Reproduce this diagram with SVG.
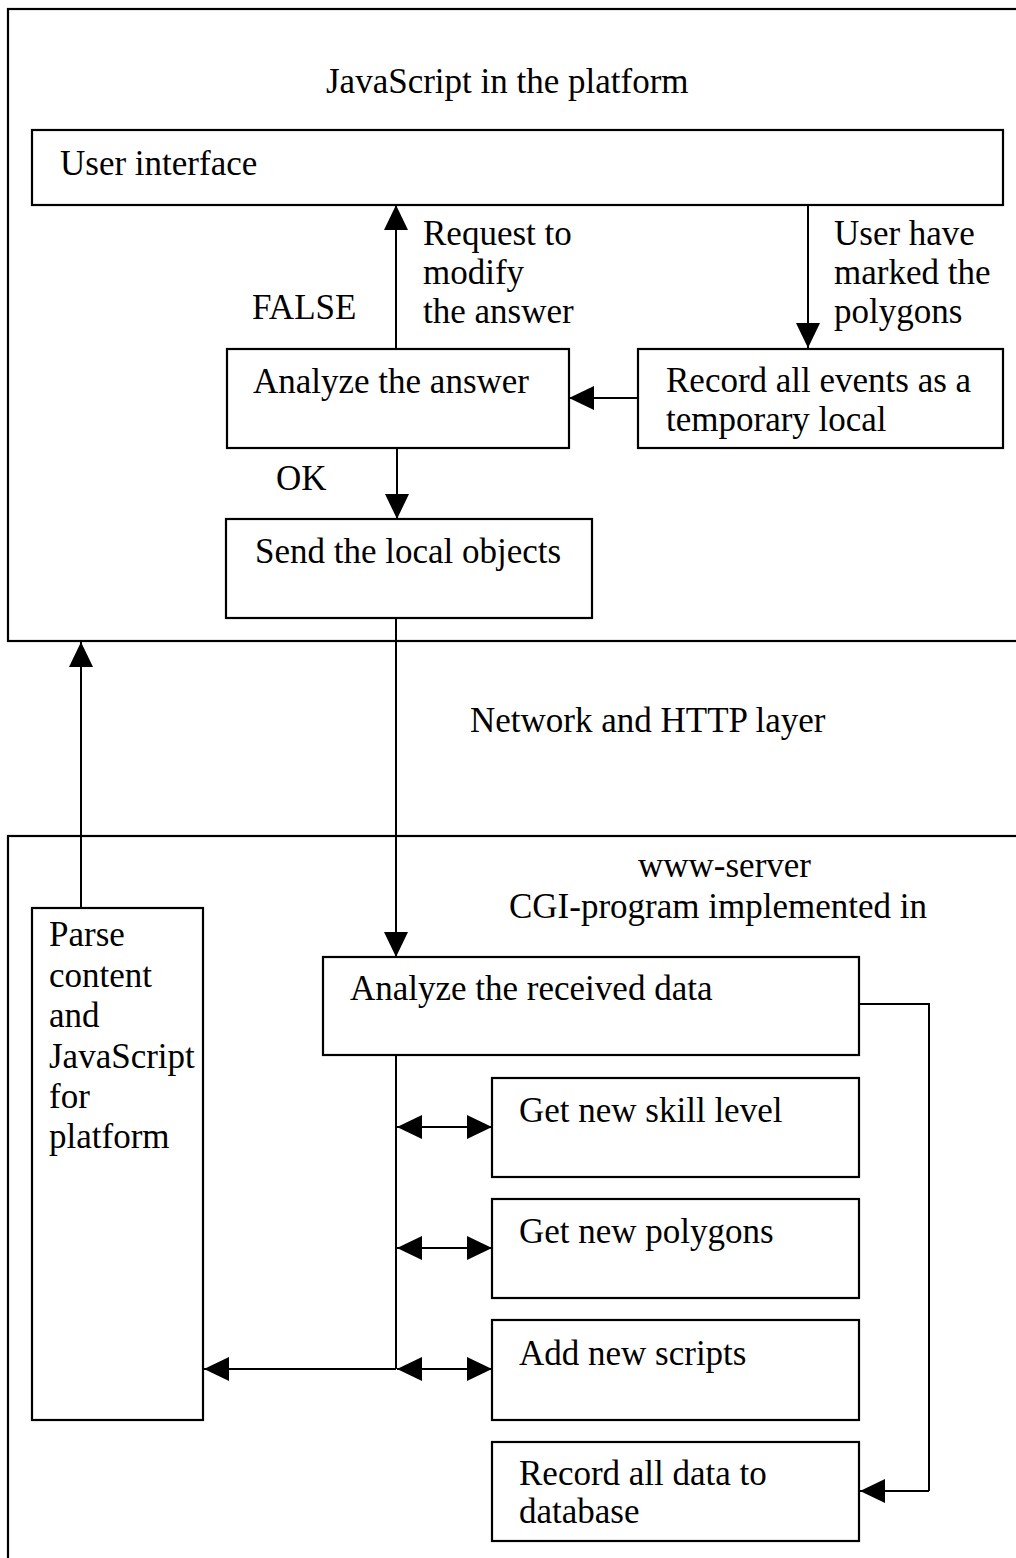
<svg xmlns="http://www.w3.org/2000/svg" width="1016" height="1558" viewBox="0 0 1016 1558">
<style>
  .box { fill: #ffffff; stroke: #000000; stroke-width: 2.2; }
  .frame { fill: none; stroke: #000000; stroke-width: 2.2; }
  .t { font-family: "Liberation Serif", "Times New Roman", serif; font-size: 35px; fill: #000000; }
  .ln { fill: none; stroke: #000000; stroke-width: 2; }
  .arr { fill: none; stroke: #000000; stroke-width: 2; marker-end: url(#ah); }
  .dbl { fill: none; stroke: #000000; stroke-width: 2; marker-start: url(#ah); marker-end: url(#ah); }
</style>
<defs>
  <marker id="ah" markerUnits="userSpaceOnUse" markerWidth="25" markerHeight="24" refX="25" refY="12" orient="auto-start-reverse" viewBox="0 0 25 24">
    <path d="M0,0 L25,12 L0,24 z" fill="#000000"/>
  </marker>
</defs>
<rect width="1016" height="1558" fill="#ffffff"/>

<g id="platform-frame">
  <rect class="frame" x="8" y="9" width="1030" height="632"/>
  <text class="t" x="326" y="93">JavaScript in the platform</text>
</g>
<g id="network-label">
  <text class="t" x="470" y="732">Network and HTTP layer</text>
</g>
<g id="server-frame">
  <rect class="frame" x="8" y="836" width="1030" height="740"/>
  <text class="t" x="638" y="877">www-server</text>
  <text class="t" x="509" y="918">CGI-program implemented in</text>
</g>

<g id="connectors">
  <path class="arr" d="M396,349 L396,205"/>
  <path class="arr" d="M808,205 L808,348"/>
  <path class="arr" d="M638,398 L569,398"/>
  <path class="arr" d="M397,448 L397,519"/>
  <path class="arr" d="M396,618 L396,957"/>
  <path class="arr" d="M81,908 L81,642"/>
  <path class="ln" d="M859,1004 L929,1004 L929,1491"/>
  <path class="arr" d="M929,1491 L860,1491"/>
  <path class="ln" d="M396,1055 L396,1369"/>
  <path class="dbl" d="M397,1127 L492,1127"/>
  <path class="dbl" d="M397,1248 L492,1248"/>
  <path class="dbl" d="M397,1369 L492,1369"/>
  <path class="arr" d="M396,1369 L204,1369"/>
  <text class="t" x="423" y="245">Request to</text>
  <text class="t" x="423" y="284">modify</text>
  <text class="t" x="423" y="323">the answer</text>
  <text class="t" x="252" y="319">FALSE</text>
  <text class="t" x="834" y="245">User have</text>
  <text class="t" x="834" y="284">marked the</text>
  <text class="t" x="834" y="323">polygons</text>
  <text class="t" x="276" y="490">OK</text>
</g>

<g id="user-interface">
  <rect class="box" x="32" y="130" width="971" height="75"/>
  <text class="t" x="60" y="175">User interface</text>
</g>
<g id="analyze-answer">
  <rect class="box" x="227" y="349" width="342" height="99"/>
  <text class="t" x="253" y="393">Analyze the answer</text>
</g>
<g id="record-events">
  <rect class="box" x="638" y="349" width="365" height="99"/>
  <text class="t" x="666" y="392">Record all events as a</text>
  <text class="t" x="666" y="431">temporary local</text>
</g>
<g id="send-objects">
  <rect class="box" x="226" y="519" width="366" height="99"/>
  <text class="t" x="255" y="563">Send the local objects</text>
</g>
<g id="parse-content">
  <rect class="box" x="32" y="908" width="171" height="512"/>
  <text class="t" x="49" y="946">Parse</text>
  <text class="t" x="49" y="987">content</text>
  <text class="t" x="49" y="1027">and</text>
  <text class="t" x="49" y="1068">JavaScript</text>
  <text class="t" x="49" y="1108">for</text>
  <text class="t" x="49" y="1148">platform</text>
</g>
<g id="analyze-received">
  <rect class="box" x="323" y="957" width="536" height="98"/>
  <text class="t" x="350" y="1000">Analyze the received data</text>
</g>
<g id="skill-level">
  <rect class="box" x="492" y="1078" width="367" height="99"/>
  <text class="t" x="519" y="1122">Get new skill level</text>
</g>
<g id="new-polygons">
  <rect class="box" x="492" y="1199" width="367" height="99"/>
  <text class="t" x="519" y="1243">Get new polygons</text>
</g>
<g id="new-scripts">
  <rect class="box" x="492" y="1320" width="367" height="100"/>
  <text class="t" x="519" y="1365">Add new scripts</text>
</g>
<g id="record-database">
  <rect class="box" x="492" y="1442" width="367" height="99"/>
  <text class="t" x="519" y="1485">Record all data to</text>
  <text class="t" x="519" y="1523">database</text>
</g>
</svg>
